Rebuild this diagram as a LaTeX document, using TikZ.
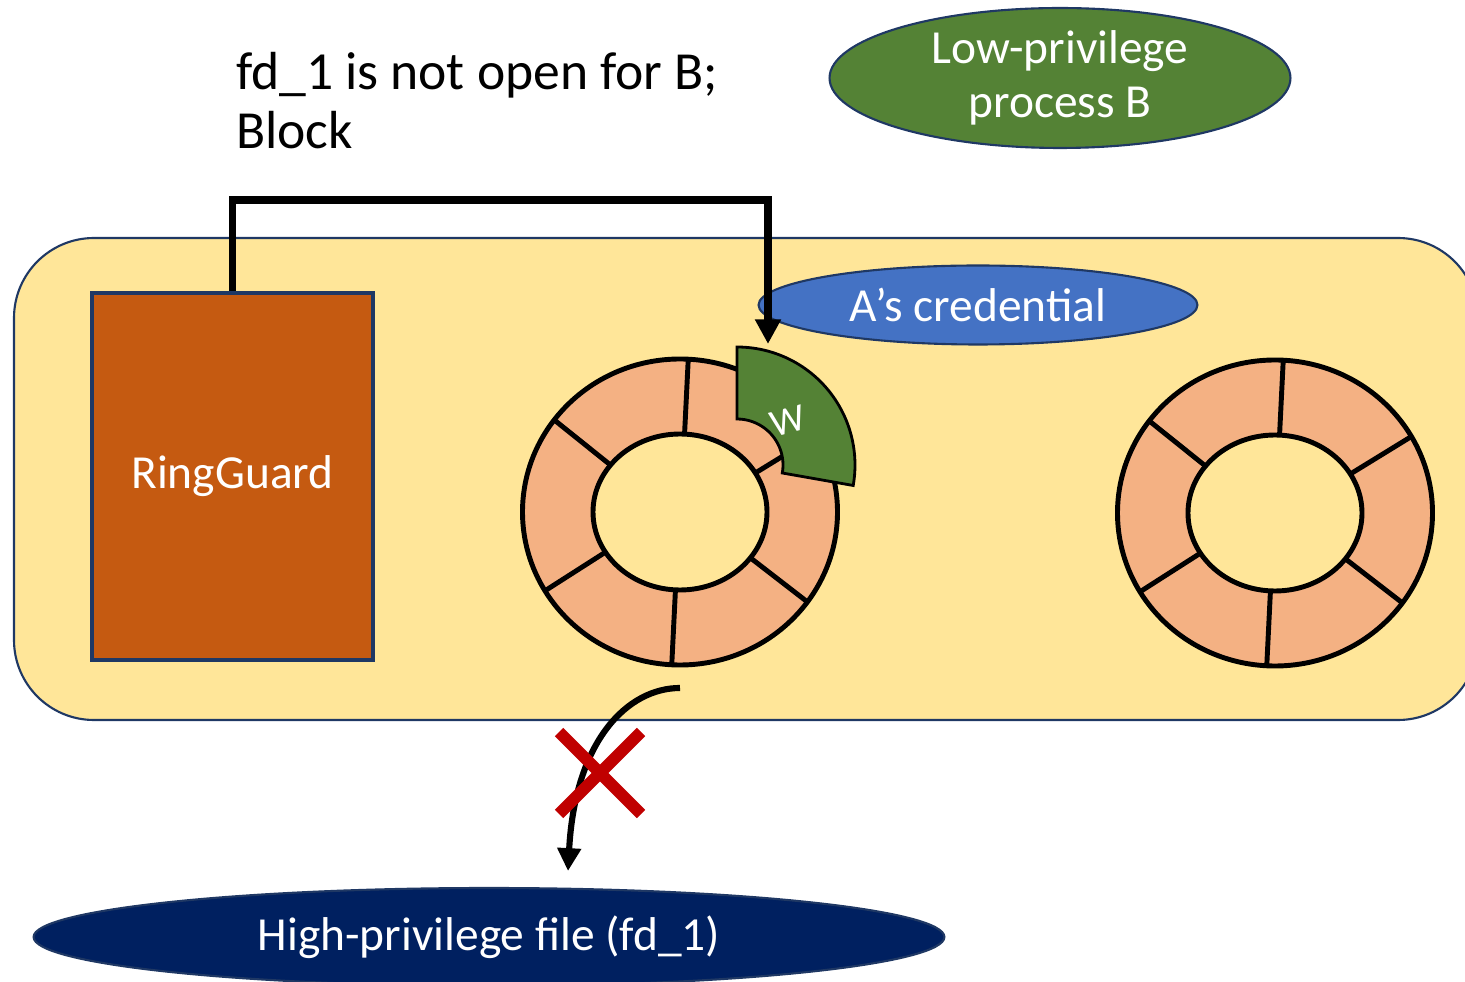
\documentclass[tikz,border=0pt]{standalone}
\usepackage{fontspec}
\setmainfont{Carlito}
\usetikzlibrary{shapes.geometric,arrows.meta,calc,positioning}

\definecolor{bgyellow}{HTML}{FFE699}
\definecolor{navy}{HTML}{1F3864}
\definecolor{guardorange}{HTML}{C55A11}
\definecolor{slotorange}{HTML}{F4B183}
\definecolor{procgreen}{HTML}{548235}
\definecolor{credblue}{HTML}{4472C4}
\definecolor{filenavy}{HTML}{002060}
\definecolor{blockred}{HTML}{C00000}

\newcommand{\labelfont}{\fontsize{27}{31}\selectfont}

\tikzset{
  oval/.style={ellipse, draw=navy, line width=1.2pt, text=white, inner sep=0pt, align=center, font=\labelfont},
  guard/.style={rectangle, draw=navy, fill=guardorange, line width=2.8pt, text=white,
                minimum width=5.62cm, minimum height=7.34cm, font=\labelfont},
  ringline/.style={draw=black, line width=2.8pt},
  conn/.style={line width=4pt, -{Triangle[length=14pt,width=14pt]}},
  redx/.style={draw=blockred, line width=6.8pt}
}

\begin{document}
\begin{tikzpicture}[x=0.02cm,y=-0.02cm]
  \useasboundingbox (0,0) rectangle (1465,982);

  % kernel area
  \draw[draw=navy, fill=bgyellow, line width=1.2pt, rounded corners=1.6cm] (14,238) rectangle (1478,720);

  % the two rings
  \coordinate (ringA) at (680,512);
  \coordinate (ringB) at (1275,513);
  \foreach \c in {ringA,ringB} {
    \filldraw[ringline, fill=slotorange] (\c) ellipse [x radius=157.5, y radius=153];
    \filldraw[ringline, fill=bgyellow] (\c) ellipse [x radius=87, y radius=78];
    \foreach \a in {-87,-30,36,93,149,-143}
      \draw[ringline] ($(\c)+(\a:87 and 78)$) -- ($(\c)+(\a:157.5 and 153)$);
  }

  % write entry pulled out of ring A
  \coordinate (wc) at (737,465);
  \filldraw[draw=black, line width=1.6pt, fill=procgreen]
    ($(wc)+(-90:118)$) arc[start angle=-90, end angle=10, radius=118]
    -- ($(wc)+(10:46)$) arc[start angle=10, end angle=-90, radius=46] -- cycle;
  \node[text=white, rotate=15, font=\fontsize{22}{26}\selectfont] (wlabel) at (788,421) {W};

  \node[oval, fill=credblue, minimum width=8.78cm, minimum height=1.58cm] (cred) at (978,305) {A’s credential};
  \node[guard] (rg) at (232.5,476.5) {\raisebox{-0.2em}{RingGuard}};
  \node[oval, fill=procgreen, minimum width=9.22cm, minimum height=2.8cm] (procB) at (1060,78) {Low-privilege\\process B};
  \node[oval, fill=filenavy, minimum width=18.22cm, minimum height=1.96cm] (hpfile) at (489,937) {High-privilege file (fd\_1)};

  \node[anchor=base west, align=left, font=\fontsize{30.5}{34}\selectfont] (note) at (230,149) {fd\_1 is not open for B;\\Block};

  % check path
  \coordinate (bend) at (500,200);
  \coordinate (wtop) at (768,344);
  \draw[conn] (rg.north) |- (bend) -| (wtop);

  % blocked access
  \coordinate (cstart) at (680,688);
  \coordinate (cend) at (568,871);
  \draw[line width=3.5pt, -{Triangle[length=13pt,width=13pt]}] (cstart) .. controls (628,688) and (575,740) .. (cend);
  \coordinate (xmark) at (600,773);
  \draw[redx] ($(xmark)+(-41,-41)$) -- ($(xmark)+(41,41)$);
  \draw[redx] ($(xmark)+(-41,41)$) -- ($(xmark)+(41,-41)$);
\end{tikzpicture}
\end{document}
